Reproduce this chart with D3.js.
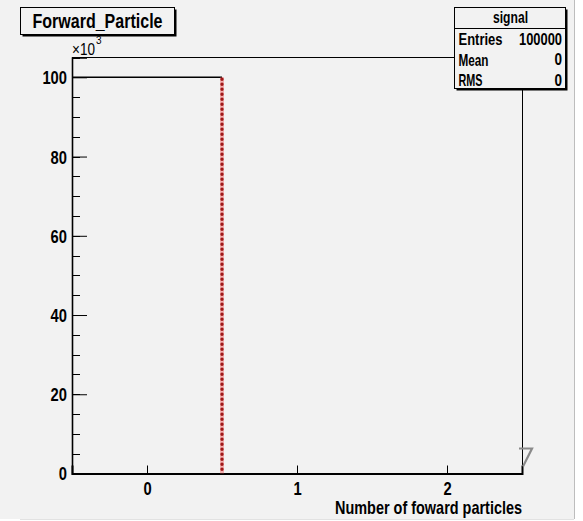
<!DOCTYPE html>
<html>
<head>
<meta charset="utf-8">
<script src="https://cdn.jsdelivr.net/npm/d3@7"></script>
<style>
  html, body { margin: 0; padding: 0; background: #ffffff; }
  svg { display: block; }
  text { font-family: "Liberation Sans", Arial, Helvetica, sans-serif; fill: #000; }
</style>
</head>
<body>
<svg id="chart" width="583" height="521"></svg>
<script>
// Histogram "Forward_Particle": number of forward particles per event
const binLowEdges = [-0.5, 0.5, 1.5];
const binHighEdges = [0.5, 1.5, 2.5];
const binCounts = [100000, 0, 0];
const xTicks = [0, 1, 2];
const yTicks = [0, 20000, 40000, 60000, 80000, 100000];
const yMinorTicks = d3.range(0, 105001, 5000);
const histTitle = "Forward_Particle";
const statsName = "signal";
const statsRows = [["Entries", "100000"], ["Mean", "0"], ["RMS", "0"]];
const xTitle = "Number of foward particles";

const svg = d3.select("#chart");
const BOLD = "bold";
const SQ = 0.82; // horizontal squeeze applied to the labels

// pad background
svg.append("rect").attr("x", 0).attr("y", 0).attr("width", 574).attr("height", 519).attr("fill", "#f2f2f2");
svg.append("line").attr("x1", 574.5).attr("x2", 574.5).attr("y1", 0).attr("y2", 519)
  .attr("stroke", "#bdbdbd").attr("stroke-width", 1);
svg.append("line").attr("x1", 20).attr("x2", 574).attr("y1", 519.5).attr("y2", 519.5)
  .attr("stroke", "#e2e2e2").attr("stroke-width", 1);

const x = d3.scaleLinear().domain([-0.5, 2.5]).range([72, 522]);
const y = d3.scaleLinear().domain([0, 105000]).range([473.5, 57.5]);

// frame
svg.append("rect").attr("x", x(-0.5) + 0.5).attr("y", y(105000))
  .attr("width", x(2.5) - x(-0.5)).attr("height", y(0) - y(105000))
  .attr("fill", "none").attr("stroke", "#000").attr("stroke-width", 1);

// minor y ticks
svg.append("g").attr("transform", `translate(${x(-0.5)},0)`)
  .selectAll("line").data(yMinorTicks).join("line")
  .attr("x1", 0).attr("x2", 8).attr("y1", d => Math.round(y(d)) + 0.5).attr("y2", d => Math.round(y(d)) + 0.5)
  .attr("stroke", "#000");

// y axis
const yAxis = d3.axisLeft(y).tickValues(yTicks).tickSize(-15).tickPadding(5)
  .tickFormat(d => d3.format("d")(d / 1000));
const gy = svg.append("g").attr("transform", `translate(${x(-0.5)},0)`).call(yAxis);
gy.select(".domain").attr("stroke", "#000").attr("stroke-width", 1.6);
gy.selectAll(".tick line").attr("stroke", "#000");
gy.selectAll(".tick text").attr("font-size", 18).attr("fill", "#000")
  .attr("font-family", "Liberation Sans, Arial, sans-serif")
  .style("font-weight", BOLD)
  .attr("transform", `scale(${SQ},1)`).attr("x", -5 / SQ).attr("dy", "0.36em");

// x axis
const xAxis = d3.axisBottom(x).tickValues(xTicks).tickSize(-8).tickPadding(9)
  .tickFormat(d3.format("d"));
const gx = svg.append("g").attr("transform", `translate(0,${y(0)})`).call(xAxis);
gx.select(".domain").attr("stroke", "#000").attr("stroke-width", 2);
gx.selectAll(".tick line").attr("stroke", "#000");
gx.selectAll(".tick text").attr("font-size", 18).attr("fill", "#000")
  .attr("font-family", "Liberation Sans, Arial, sans-serif")
  .style("font-weight", BOLD)
  .attr("transform", `scale(${SQ},1)`);

// histogram outline: top of each filled bin in black
const bins = binCounts.map((c, i) => ({ lo: binLowEdges[i], hi: binHighEdges[i], c }));
svg.append("g").selectAll("line.top").data(bins.filter(b => b.c > 0)).join("line")
  .attr("class", "top")
  .attr("x1", d => x(d.lo)).attr("x2", d => x(d.hi))
  .attr("y1", d => y(d.c)).attr("y2", d => y(d.c))
  .attr("stroke", "#000").attr("stroke-width", 1.5);

// falling edge drawn in red with markers
const drops = bins.filter(b => b.c > 0);
svg.append("g").selectAll("line.edge").data(drops).join("line")
  .attr("class", "edge")
  .attr("x1", d => x(d.hi)).attr("x2", d => x(d.hi))
  .attr("y1", d => y(d.c)).attr("y2", y(0))
  .attr("stroke", "#f06060").attr("stroke-width", 4).attr("opacity", 0.45);
svg.append("g").selectAll("line.dots").data(drops).join("line")
  .attr("class", "dots")
  .attr("x1", d => x(d.hi)).attr("x2", d => x(d.hi))
  .attr("y1", d => y(d.c) + 2).attr("y2", y(0))
  .attr("stroke", "#a01818").attr("stroke-width", 3.4)
  .attr("stroke-linecap", "round").attr("stroke-dasharray", "0 5");

// small open marker at the right end of the x axis
const mx = x(2.5), my = y(0);
svg.append("path")
  .attr("d", `M${mx - 3},${my - 25} L${mx + 10},${my - 25} L${mx + 1},${my - 7}`)
  .attr("fill", "none").attr("stroke", "#8a8a8a").attr("stroke-width", 2.2);

// x axis title
svg.append("text").attr("x", x(2.5)).attr("y", 514).attr("text-anchor", "end")
  .style("font-weight", BOLD)
  .attr("font-size", 18.5).attr("textLength", 187).attr("lengthAdjust", "spacingAndGlyphs")
  .text(xTitle);

// x10^3 multiplier above the y axis
svg.append("text").attr("x", 72 / SQ).attr("y", 55).attr("font-size", 16.5)
  .attr("transform", `scale(${SQ},1)`)
  .style("font-weight", "normal")
  .text("\u00d710");
svg.append("text").attr("x", 96).attr("y", 44).attr("font-size", 10)
  .style("font-weight", "normal")
  .text("3");

// title box
function box(g, x0, y0, w, h) {
  g.append("rect").attr("x", x0 + 2).attr("y", y0 + 2).attr("width", w).attr("height", h).attr("fill", "#000");
  g.append("rect").attr("x", x0).attr("y", y0).attr("width", w).attr("height", h)
    .attr("fill", "#f2f2f2").attr("stroke", "#000").attr("stroke-width", 1);
}
const tg = svg.append("g");
box(tg, 20.5, 7.5, 154, 27);
tg.append("text").attr("x", 97.5).attr("y", 27.5).attr("text-anchor", "middle")
  .style("font-weight", BOLD)
  .attr("font-size", 20).attr("textLength", 130).attr("lengthAdjust", "spacingAndGlyphs")
  .text(histTitle);

// statistics box
const sg = svg.append("g");
box(sg, 454.5, 7.5, 111, 81);
sg.append("line").attr("x1", 454.5).attr("x2", 565.5).attr("y1", 28.5).attr("y2", 28.5).attr("stroke", "#000");
sg.append("text").attr("x", 510.5).attr("y", 23).attr("text-anchor", "middle").attr("font-size", 16.5)
  .style("font-weight", BOLD)
  .attr("textLength", 35).attr("lengthAdjust", "spacingAndGlyphs").text(statsName);
const labelWidths = { "Entries": 44, "Mean": 30, "RMS": 24, "100000": 43 };
const rowY = d3.scaleLinear().domain([0, 2]).range([45, 86]);
sg.selectAll("text.lab").data(statsRows).join("text").attr("class", "lab")
  .attr("x", 458.5).attr("y", (d, i) => rowY(i)).attr("font-size", 16.5)
  .style("font-weight", BOLD)
  .attr("textLength", d => labelWidths[d[0]]).attr("lengthAdjust", "spacingAndGlyphs")
  .text(d => d[0]);
sg.selectAll("text.val").data(statsRows).join("text").attr("class", "val")
  .attr("x", 562).attr("y", (d, i) => rowY(i)).attr("text-anchor", "end").attr("font-size", 16.5)
  .style("font-weight", BOLD)
  .each(function (d) {
    if (labelWidths[d[1]]) d3.select(this).attr("textLength", labelWidths[d[1]]).attr("lengthAdjust", "spacingAndGlyphs");
    else d3.select(this).attr("transform", `translate(562,0) scale(${SQ},1) translate(-562,0)`);
  })
  .text(d => d[1]);
</script>
</body>
</html>
